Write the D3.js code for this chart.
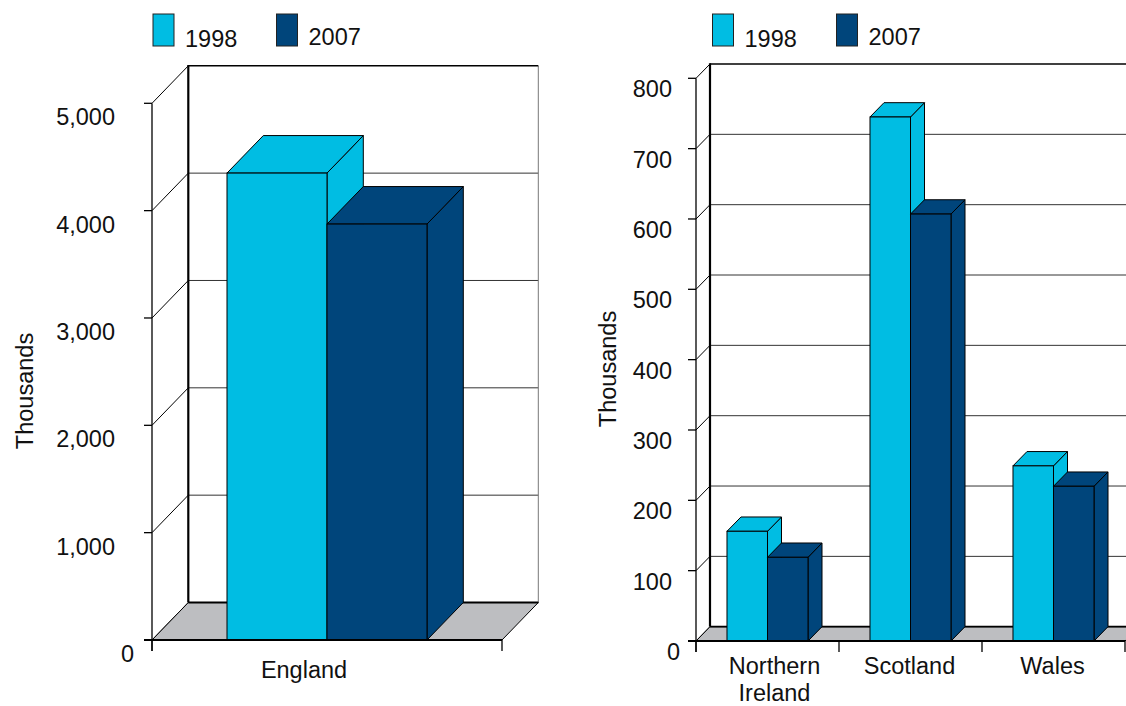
<!DOCTYPE html>
<html>
<head>
<meta charset="utf-8">
<script src="https://cdn.jsdelivr.net/npm/d3@7"></script>
<style>
  html, body { margin: 0; padding: 0; background: #fff; }
  svg { display: block; }
  text { font-family: "Liberation Sans", Arial, Helvetica, sans-serif; fill: #111; }
</style>
</head>
<body>
<svg id="chart" width="1126" height="706"></svg>
<script>
// ---------------- DATA ----------------
const seriesNames = ["1998", "2007"];
const seriesColors = ["#00bde3", "#00457b"];

const englandCategories = ["England"];
const england1998 = [4350];
const england2007 = [3875];
const englandTicks = [0, 1000, 2000, 3000, 4000, 5000];

const nationsCategories = ["Northern Ireland", "Scotland", "Wales"];
const nations1998 = [156, 745, 249];
const nations2007 = [119, 607, 220];
const nationsTicks = [0, 100, 200, 300, 400, 500, 600, 700, 800];

const yTitle = "Thousands";

// ---------------- DRAW ----------------
const svg = d3.select("#chart");

function drawPanel(opt) {
  const g = svg.append("g");
  const y = d3.scaleLinear().domain([0, d3.max(opt.ticks)]).range([opt.base, opt.top]);
  const x = d3.scaleBand().domain(opt.categories).range([opt.left, opt.right]).paddingInner(0).paddingOuter(0);
  const xs = d3.scaleBand().domain(seriesNames).range([0, x.bandwidth()]).paddingInner(0).paddingOuter(opt.barPad);
  const dx = opt.dx, dy = opt.dy;
  const bl = opt.left + dx, br = opt.right + dx;
  const ymax = d3.max(opt.ticks);
  const fmt = d3.format(",");

  // back wall
  g.append("rect").attr("x", bl).attr("y", y(ymax) + dy).attr("width", br - bl).attr("height", y(0) - y(ymax))
    .attr("fill", "#fff");
  // gridlines on back wall
  g.selectAll(".grid").data(opt.ticks.filter(t => t > 0 && t < ymax)).enter().append("line")
    .attr("x1", bl).attr("x2", br).attr("y1", d => y(d) + dy).attr("y2", d => y(d) + dy)
    .attr("stroke", "#333").attr("stroke-width", 1);
  // right edge of back wall
  g.append("line").attr("x1", br).attr("x2", br).attr("y1", y(ymax) + dy).attr("y2", y(0) + dy)
    .attr("stroke", "#777").attr("stroke-width", 1);
  // top line of back wall
  g.append("line").attr("x1", bl).attr("x2", br).attr("y1", y(ymax) + dy).attr("y2", y(ymax) + dy)
    .attr("stroke", "#000").attr("stroke-width", 1.5);
  // left edge of back wall
  g.append("line").attr("x1", bl).attr("x2", bl).attr("y1", y(ymax) + dy - 0.75).attr("y2", y(0) + dy)
    .attr("stroke", "#000").attr("stroke-width", 2.2);
  // diagonals from front ticks to back wall
  g.selectAll(".diag").data(opt.ticks).enter().append("line")
    .attr("x1", opt.left).attr("y1", d => y(d)).attr("x2", bl).attr("y2", d => y(d) + dy)
    .attr("stroke", "#000").attr("stroke-width", 1);
  // floor
  g.append("polygon")
    .attr("points", [[opt.left, y(0)], [opt.right, y(0)], [br, y(0) + dy], [bl, y(0) + dy]].map(p => p.join(",")).join(" "))
    .attr("fill", "#bdbec1").attr("stroke", "#000").attr("stroke-width", 1);
  // floor back edge thicker
  g.append("line").attr("x1", bl).attr("x2", br).attr("y1", y(0) + dy).attr("y2", y(0) + dy)
    .attr("stroke", "#000").attr("stroke-width", 1.8);
  // front y axis
  g.append("line").attr("x1", opt.left).attr("x2", opt.left).attr("y1", y(ymax)).attr("y2", y(0) + 11)
    .attr("stroke", "#000").attr("stroke-width", 1.3);
  g.selectAll(".ytick").data(opt.ticks).enter().append("line")
    .attr("x1", opt.left - 8).attr("x2", opt.left).attr("y1", d => y(d)).attr("y2", d => y(d))
    .attr("stroke", "#000").attr("stroke-width", 1.3);
  g.selectAll(".ylab").data(opt.ticks).enter().append("text")
    .attr("x", d => d === 0 ? opt.zeroLabelX : opt.labelX)
    .attr("y", d => y(d) + opt.labelDy)
    .attr("text-anchor", "end").attr("font-size", opt.fs)
    .text(d => fmt(d));
  // x ticks at band boundaries
  const bounds = opt.categories.map(c => x(c)).concat([x(opt.categories[opt.categories.length - 1]) + x.bandwidth()]);
  g.selectAll(".xtick").data(bounds).enter().append("line")
    .attr("x1", d => d).attr("x2", d => d).attr("y1", y(0)).attr("y2", y(0) + 11)
    .attr("stroke", "#000").attr("stroke-width", 1.3);

  // bars
  const rows = [];
  opt.categories.forEach((c, i) => {
    opt.series.forEach((vals, s) => {
      rows.push({ cat: c, s: s, name: seriesNames[s], v: vals[i] });
    });
  });
  rows.forEach(r => {
    const x0 = x(r.cat) + xs(r.name), x1 = x0 + xs.bandwidth();
    const yt = y(r.v), yb = y(0);
    const col = seriesColors[r.s];
    const bg = g.append("g");
    bg.append("polygon")
      .attr("points", [[x1, yt], [x1 + dx, yt + dy], [x1 + dx, yb + dy], [x1, yb]].map(p => p.join(",")).join(" "))
      .attr("fill", col).attr("stroke", "#000").attr("stroke-width", 1).attr("stroke-linejoin", "round");
    bg.append("polygon")
      .attr("points", [[x0, yt], [x0 + dx, yt + dy], [x1 + dx, yt + dy], [x1, yt]].map(p => p.join(",")).join(" "))
      .attr("fill", col).attr("stroke", "#000").attr("stroke-width", 1).attr("stroke-linejoin", "round");
    bg.append("rect").attr("x", x0).attr("y", yt).attr("width", x1 - x0).attr("height", yb - yt)
      .attr("fill", col).attr("stroke", "#000").attr("stroke-width", 1);
  });
  // front baseline
  g.append("line").attr("x1", opt.left - 8).attr("x2", opt.right).attr("y1", y(0)).attr("y2", y(0))
    .attr("stroke", "#000").attr("stroke-width", 1.8);

  // category labels
  opt.categories.forEach((c, i) => {
    const words = opt.wrap && c.indexOf(" ") > 0 ? c.split(" ") : [c];
    const cx = x(c) + x.bandwidth() / 2 + opt.catShift[i];
    const t = g.append("text").attr("x", cx).attr("y", opt.catY)
      .attr("text-anchor", "middle").attr("font-size", opt.fs);
    words.forEach((w, k) => {
      t.append("tspan").attr("x", cx).attr("dy", k === 0 ? 0 : opt.lineH).text(w);
    });
  });

  // y title
  g.append("text").attr("transform", `translate(${opt.titleX},${opt.titleY}) rotate(-90)`)
    .attr("text-anchor", "middle").attr("font-size", opt.fs).text(yTitle);

  // legend
  seriesNames.forEach((n, s) => {
    g.append("rect").attr("x", opt.legendX[s]).attr("y", 14).attr("width", 21).attr("height", 32)
      .attr("fill", seriesColors[s]).attr("stroke", "#222").attr("stroke-width", 1);
    g.append("text").attr("x", opt.legendX[s] + 32).attr("y", s === 0 ? 47 : 45)
      .attr("font-size", opt.fs).text(n);
  });
}

drawPanel({
  categories: englandCategories,
  series: [england1998, england2007],
  ticks: englandTicks,
  left: 152, right: 502, base: 640, top: 103.3,
  dx: 36.3, dy: -37.5, barPad: 0.75,
  labelX: 115, zeroLabelX: 134, labelDy: 22, fs: 23.5,
  catY: 678, lineH: 26, wrap: false, catShift: [-23],
  titleX: 33, titleY: 391,
  legendX: [153, 276.5]
});

drawPanel({
  categories: nationsCategories,
  series: [nations1998, nations2007],
  ticks: nationsTicks,
  left: 696, right: 1125, base: 641, top: 78.3,
  dx: 14, dy: -14.3, barPad: 0.765,
  labelX: 672, zeroLabelX: 680, labelDy: 19, fs: 23.5,
  catY: 674, lineH: 27, wrap: true, catShift: [7, -1, -1],
  titleX: 616, titleY: 369,
  legendX: [712.5, 836.5]
});
</script>
</body>
</html>
